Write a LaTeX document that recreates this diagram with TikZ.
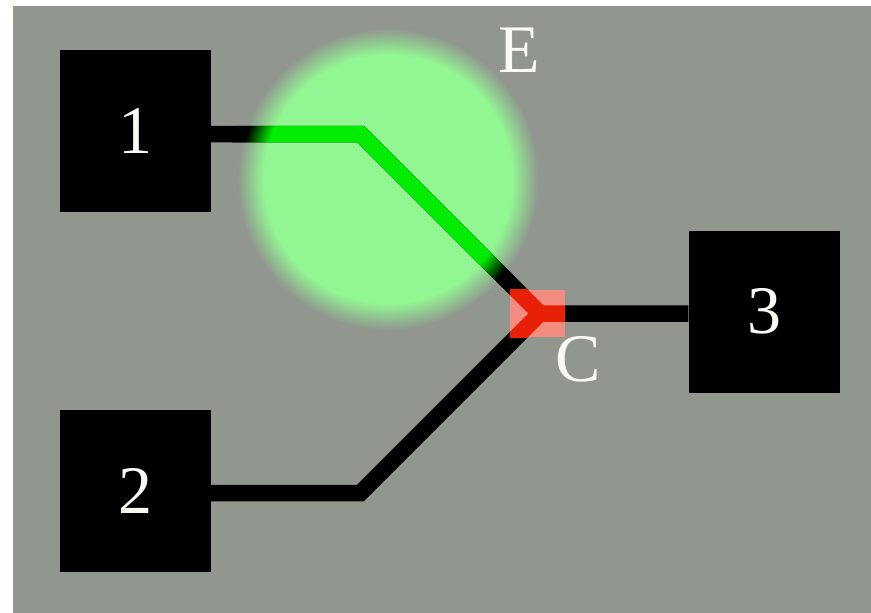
\documentclass[tikz,border=0pt]{standalone}
\usepackage{fontspec}
\setmainfont{Liberation Serif}
\definecolor{bg}{RGB}{145,150,143}
\definecolor{lg}{RGB}{146,246,146}
\definecolor{gline}{RGB}{0,236,0}
\definecolor{pinkc}{RGB}{242,140,128}
\definecolor{redc}{RGB}{232,32,8}
\definecolor{txt}{RGB}{250,250,245}
\pgfdeclareradialshading{glow}{\pgfpointorigin}{color(0bp)=(lg); color(20.6bp)=(lg); color(25bp)=(bg); color(50bp)=(bg)}
\pgfdeclareradialshading{lineglow}{\pgfpointorigin}{color(0bp)=(gline); color(19.5bp)=(gline); color(23.1bp)=(black); color(50bp)=(black)}
\begin{document}
\begin{tikzpicture}[x=1pt,y=-1pt,
  blk/.style={fill=black, minimum width=151pt, minimum height=162pt, inner sep=0pt, text=txt, font=\fontsize{68}{68}\selectfont},
  wire/.style={line width=16.5pt, line join=miter},
  lbl/.style={text=txt, font=\fontsize{68}{68}\selectfont, inner sep=0pt},
  sqbox/.style={fill=pinkc, minimum width=55pt, minimum height=47pt, inner sep=0pt}]
\useasboundingbox (0,0) rectangle (871,613);
\fill[white] (0,0) rectangle (871,613);
\fill[bg] (13,6) rectangle (871,613);
\coordinate (Ectr) at (388,179);
\shade[shading=glow] (Ectr) circle (151);
\node[blk] (b1) at (135.5,131) {1};
\node[blk] (b2) at (135.5,491) {2};
\node[blk] (b3) at (764,311.5) {3};
\coordinate (J) at (540,313.5);
\coordinate (c1) at (360.5,134);
\coordinate (c2) at (360.5,493);
\draw[wire] (b1.east |- c1) -- (c1) -- (J) -- (b3.west |- J);
\draw[wire] (b2.east |- c2) -- (c2) -- (J);
\begin{scope}
\clip (211,125.75) -- (363.92,125.75) -- (545.83,307.67) -- (534.17,319.33) -- (357.08,142.25) -- (211,142.25) -- cycle;
\shade[shading=lineglow] (Ectr) circle (160);
\end{scope}
\node[sqbox] (sq) at (537.5,313.5) {};
\begin{scope}
\clip (sq.north west) rectangle (sq.south east);
\draw[wire, redc] (b1.east |- c1) -- (c1) -- (J) -- (b3.west |- J);
\draw[wire, redc] (b2.east |- c2) -- (c2) -- (J);
\end{scope}
\node[lbl] (E) at (519.5,50.5) {E};
\node[lbl] (C) at (578.5,359) {C};
\end{tikzpicture}
\end{document}
